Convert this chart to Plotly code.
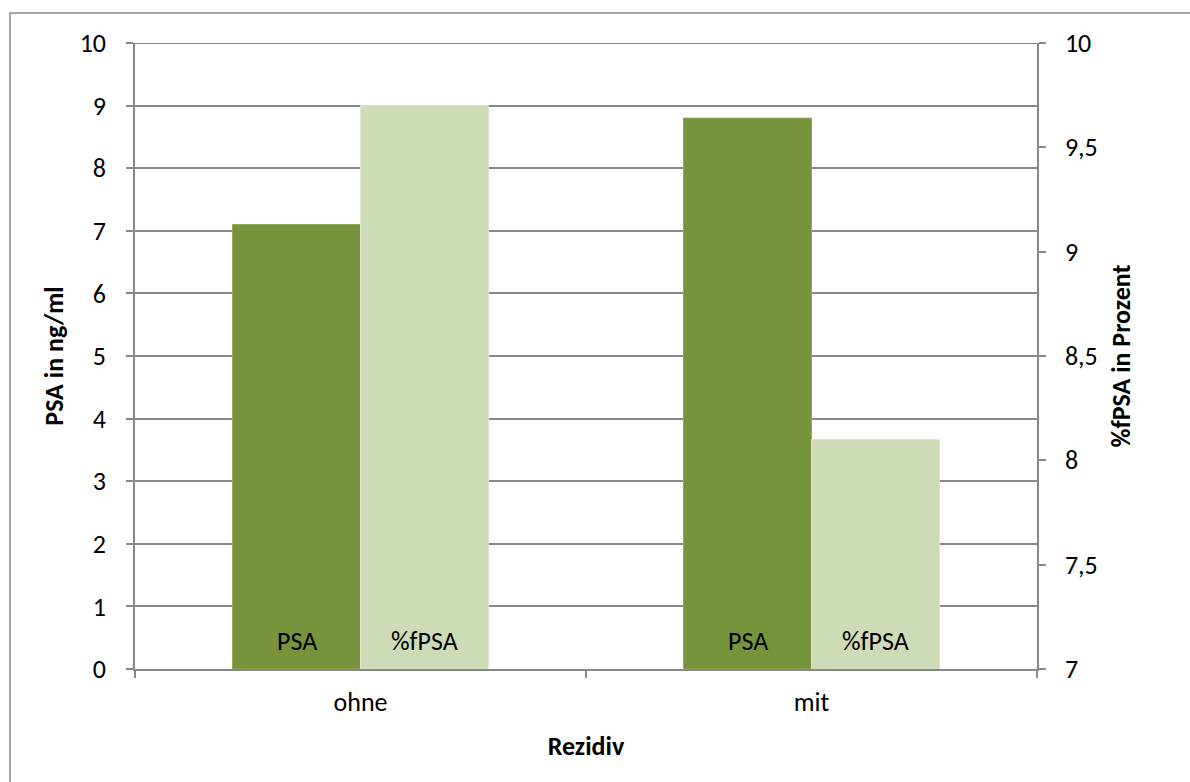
import plotly.graph_objects as go

categories = ["ohne", "mit"]
psa_values = [7.1, 8.8]          # PSA in ng/ml (left axis)
fpsa_values = [9.7, 8.1]         # %fPSA in Prozent (right axis)
series_names = ["PSA", "%fPSA"]
left_ticks = list(range(0, 11))
right_ticks = [7, 7.5, 8, 8.5, 9, 9.5, 10]

DARK = "#77933C"
LIGHT = "#CEDBB7"
GRID = "#888888"
FONT = "Carlito, Calibri, Lato, sans-serif"
TS = 26   # tick / label font size
TT = 26   # axis title font size

W, H = 1190, 782
L, R, T, B = 135, 153, 43, 113
PW, PH = W - L - R, H - T - B

bar_w = 128 / (PW / 2)

fig = go.Figure()
fig.add_trace(go.Bar(x=categories, y=psa_values, name=series_names[0],
                     marker=dict(color=DARK, line=dict(color="#8FA85A", width=1)),
                     width=bar_w, offset=-bar_w, yaxis="y"))
fig.add_trace(go.Bar(x=categories, y=fpsa_values, name=series_names[1],
                     marker=dict(color=LIGHT, line=dict(color="#DCE6C8", width=1)),
                     width=bar_w, offset=0, yaxis="y2"))

annotations = []
for c in categories:
    annotations.append(dict(x=c, y=0, xref="x", yref="y", text=series_names[0],
                            showarrow=False, xshift=-64, yshift=28,
                            font=dict(family=FONT, size=TS, color="black")))
    annotations.append(dict(x=c, y=right_ticks[0], xref="x", yref="y2", text=series_names[1],
                            showarrow=False, xshift=64, yshift=28,
                            font=dict(family=FONT, size=TS, color="black")))

shapes = [
    # outer chart border (left/top visible)
    dict(type="rect", xref="paper", yref="paper",
         x0=(10 - L) / PW, x1=(W + 20 - L) / PW,
         y0=-(H + 20 - T - PH) / PH, y1=(H - 13 - B) / PH,
         line=dict(color="#8A8A8A", width=1.5), fillcolor="rgba(0,0,0,0)", layer="below"),
    # top green line at max
    dict(type="line", xref="paper", yref="y", x0=0, x1=1, y0=10, y1=10,
         line=dict(color=DARK, width=2), layer="above"),
]

fig.update_layout(
    width=W, height=H,
    margin=dict(l=L, r=R, t=T, b=B, pad=0),
    paper_bgcolor="white", plot_bgcolor="white",
    showlegend=False,
    separators=",.",
    font=dict(family=FONT, size=TS, color="black"),
    barmode="overlay",
    annotations=annotations,
    shapes=shapes,
    xaxis=dict(
        type="category", categoryorder="array", categoryarray=categories,
        range=[-0.5, 1.5],
        showline=True, linecolor=GRID, linewidth=1.5,
        ticks="outside", ticklen=7, tickcolor=GRID, tickwidth=1.5,
        tickson="boundaries", ticklabelstandoff=9,
        tickfont=dict(family=FONT, size=TS),
        title=dict(text="<b>Rezidiv</b>", font=dict(family=FONT, size=TT), standoff=20),
        showgrid=False,
    ),
    yaxis=dict(
        range=[0, 10], tickvals=left_ticks,
        showline=True, linecolor=GRID, linewidth=1.5,
        ticks="outside", ticklen=7, tickcolor=GRID, tickwidth=1.5,
        showgrid=True, gridcolor=GRID, gridwidth=1.5,
        zeroline=False,
        tickfont=dict(family=FONT, size=TS),
        ticklabelstandoff=15,
        title=dict(text="<b>PSA in ng/ml</b>", font=dict(family=FONT, size=TT), standoff=9),
    ),
    yaxis2=dict(
        range=[7, 10], tickvals=right_ticks,
        overlaying="y", side="right",
        showline=True, linecolor=GRID, linewidth=1.5,
        ticks="outside", ticklen=7, tickcolor=GRID, tickwidth=1.5,
        showgrid=False, zeroline=False,
        tickfont=dict(family=FONT, size=TS),
        ticklabelstandoff=14,
        title=dict(text="<b>%fPSA in Prozent</b>", font=dict(family=FONT, size=TT), standoff=15),
    ),
)

fig.write_html("out.html")
